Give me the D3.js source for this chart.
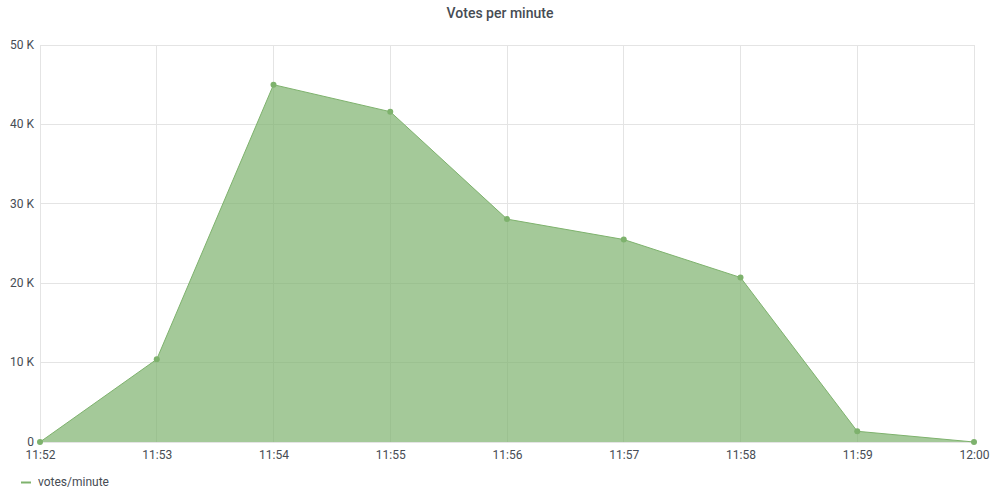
<!DOCTYPE html>
<html>
<head>
<meta charset="utf-8">
<script src="https://cdn.jsdelivr.net/npm/d3@7"></script>
<style>
  html, body { margin: 0; padding: 0; background: #fff; }
  svg { display: block; font-family: Roboto, sans-serif; }
</style>
</head>
<body>
<svg id="chart" width="1000" height="500"></svg>
<script>
const title = "Votes per minute";
const seriesName = "votes/minute";
const times = ["11:52", "11:53", "11:54", "11:55", "11:56", "11:57", "11:58", "11:59", "12:00"];
const values = [0, 10420, 45000, 41600, 28070, 25500, 20720, 1350, 0];
const yTicks = [0, 10000, 20000, 30000, 40000, 50000];
const yTickLabels = ["0", "10 K", "20 K", "30 K", "40 K", "50 K"];

const parse = d3.timeParse("%H:%M");
const data = times.map((t, i) => ({ t: parse(t), v: values[i] }));

const svg = d3.select("#chart");
const W = 1000, H = 500;
const m = { left: 40, right: 26, top: 45, bottom: 58 };

const x = d3.scaleTime()
  .domain(d3.extent(data, d => d.t))
  .range([m.left, W - m.right]);
const y = d3.scaleLinear()
  .domain([0, 50000])
  .range([H - m.bottom, m.top]);

const textColor = "#464c54";
const gridColor = "#e4e4e4";
const seriesColor = "#7eb26d";

// grid
const g = svg.append("g");
g.selectAll(".hg").data(yTicks).join("line")
  .attr("x1", m.left).attr("x2", W - m.right)
  .attr("y1", d => y(d)).attr("y2", d => y(d))
  .attr("stroke", gridColor).attr("stroke-width", 1)
  .attr("shape-rendering", "crispEdges");
g.selectAll(".vg").data(data).join("line")
  .attr("x1", d => x(d.t)).attr("x2", d => x(d.t))
  .attr("y1", m.top).attr("y2", H - m.bottom)
  .attr("stroke", gridColor).attr("stroke-width", 1)
  .attr("shape-rendering", "crispEdges");

// area
const area = d3.area()
  .x(d => x(d.t)).y0(y(0)).y1(d => y(d.v));
svg.append("path").datum(data)
  .attr("d", area)
  .attr("fill", seriesColor).attr("fill-opacity", 0.7);

const line = d3.line().x(d => x(d.t)).y(d => y(d.v));
svg.append("path").datum(data)
  .attr("d", line)
  .attr("fill", "none").attr("stroke", seriesColor).attr("stroke-width", 1);

svg.selectAll(".pt").data(data).join("circle")
  .attr("cx", d => x(d.t)).attr("cy", d => y(d.v)).attr("r", 3)
  .attr("fill", seriesColor);

// y axis
const yAxis = d3.axisLeft(y)
  .tickValues(yTicks)
  .tickFormat((d, i) => yTickLabels[i])
  .tickSize(0).tickPadding(6);
const ya = svg.append("g").attr("transform", `translate(${m.left},0)`).call(yAxis);
ya.select(".domain").remove();
ya.selectAll("text").attr("fill", textColor).style("font-size", "12px")
  .style("font-family", "Roboto, sans-serif").attr("dy", "0.28em");

// x axis
const xAxis = d3.axisBottom(x)
  .tickValues(data.map(d => d.t))
  .tickFormat(d3.timeFormat("%H:%M"))
  .tickSize(0).tickPadding(8);
const xa = svg.append("g").attr("transform", `translate(0,${H - m.bottom})`).call(xAxis);
xa.select(".domain").remove();
xa.selectAll("text").attr("fill", textColor).style("font-size", "12px")
  .style("font-family", "Roboto, sans-serif");

// title
svg.append("text")
  .attr("x", W / 2).attr("y", 18)
  .attr("text-anchor", "middle")
  .attr("fill", textColor)
  .style("font-size", "14px").style("font-weight", 500)
  .text(title);

// legend
svg.append("line")
  .attr("x1", 21).attr("x2", 31).attr("y1", 482.5).attr("y2", 482.5)
  .attr("stroke", seriesColor).attr("stroke-width", 2);
svg.append("text")
  .attr("x", 38).attr("y", 486)
  .attr("fill", textColor)
  .style("font-size", "12px")
  .text(seriesName);
</script>
</body>
</html>
